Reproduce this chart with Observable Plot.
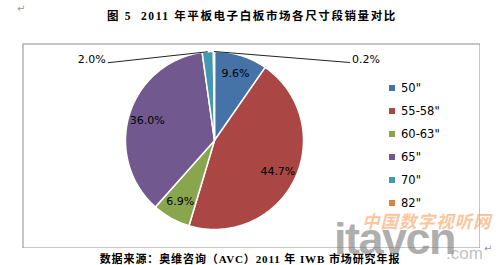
<!DOCTYPE html>
<html><head><meta charset="utf-8">
<script src="https://cdn.jsdelivr.net/npm/d3@7"></script>
<script src="https://cdn.jsdelivr.net/npm/@observablehq/plot@0.6"></script>
<style>
html,body{margin:0;padding:0;background:#fff;width:500px;height:265px;overflow:hidden;position:relative;font-family:"DejaVu Sans",sans-serif;}
.abs{position:absolute;white-space:nowrap;}
#title{left:2px;width:500px;top:9px;text-align:center;font:bold 11.5px/14px "Liberation Serif","Noto Sans CJK SC",serif;letter-spacing:1.6px;color:#000;}
#foot{left:0;width:500px;top:252px;text-align:center;font:bold 11px/14px "Liberation Serif","Noto Sans CJK SC",serif;letter-spacing:0.9px;color:#000;}
#chart{left:22px;top:43px;}
#legend{left:389px;top:0;}
.lg{position:absolute;left:0;font-size:11.5px;line-height:14px;color:#000;}
.sw{display:inline-block;width:6px;height:6px;margin-right:6px;vertical-align:1px;}
.pm{color:#999;font-size:10px;}
</style></head><body>
<div id="title" class="abs">图 5&nbsp; 2011 年平板电子白板市场各尺寸段销量对比</div>
<div class="abs pm" style="left:17px;top:3px;">↵</div>
<div id="chart" class="abs"></div>
<div id="legend" class="abs"></div>
<div id="foot" class="abs">数据来源：奥维咨询（AVC）2011 年 IWB 市场研究年报</div>
<div class="abs pm" style="left:484px;top:243px;">↵</div>
<div class="abs" style="left:362px;top:208px;font:italic bold 17.5px 'Noto Sans CJK SC',sans-serif;letter-spacing:1px;color:rgba(247,140,60,0.5);">中国数字视听网</div>
<div class="abs" style="left:334px;top:218px;font:bold 45px/42px 'Liberation Sans',sans-serif;letter-spacing:-1.5px;color:rgba(120,120,120,0.6);">itavcn</div>
<div class="abs" style="left:446px;top:245px;font:17px/17px 'Liberation Sans',sans-serif;color:rgba(150,150,150,0.6);">.com</div>
<script>
const categories = ['50"', '55-58"', '60-63"', '65"', '70"', '82"'];
const shares = [9.6, 44.7, 6.9, 36.0, 2.0, 0.2];
const colors = ["#4572A7", "#AA4643", "#89A54E", "#71588F", "#4198AF", "#DB843D"];

// layout (pixels inside the chart frame)
const W = 458, H = 205, cx = 192, cy = 97, R = 89;
const labelR = 0.79;
const outside = {4: {dx: -100, dy: 11, anchor: "end"}, 5: {dx: 136, dy: 11, anchor: "start"}};

const arcs = d3.pie().sort(null).startAngle(0).endAngle(2 * Math.PI)(shares);
const pt = (a, r) => ({x: Math.sin(a) * r, y: -Math.cos(a) * r});

const slicePts = [];
arcs.forEach((d, i) => {
  const cat = categories[i];
  slicePts.push({cat, x: 0, y: 0});
  const n = Math.max(2, Math.ceil((d.endAngle - d.startAngle) / (Math.PI / 180)));
  for (let k = 0; k <= n; k++) {
    const a = d.startAngle + (d.endAngle - d.startAngle) * k / n;
    slicePts.push({cat, ...pt(a, 1)});
  }
  slicePts.push({cat, x: 0, y: 0});
});

const inLabels = [], outLabels = [], leaders = [];
arcs.forEach((d, i) => {
  const mid = (d.startAngle + d.endAngle) / 2;
  const text = shares[i].toFixed(1) + "%";
  if (outside[i]) {
    const o = outside[i];
    const e = pt(mid, 1);
    const end = {x: e.x + o.dx / R, y: e.y + o.dy / R};
    leaders.push({x1: e.x, y1: e.y, x2: end.x, y2: end.y});
    outLabels.push({...end, text, anchor: o.anchor});
  } else {
    inLabels.push({...pt(mid, labelR), text});
  }
});

const plot = Plot.plot({
  width: W, height: H, margin: 0,
  x: {domain: [-cx / R, (W - cx) / R], range: [0, W], axis: null},
  y: {domain: [-cy / R, (H - cy) / R], range: [0, H], axis: null},
  color: {domain: categories, range: colors},
  style: {fontFamily: "DejaVu Sans, sans-serif", background: "transparent"},
  marks: [
    Plot.frame({inset: 0.5, stroke: "#8c8c8c"}),
    Plot.line(slicePts, {x: "x", y: "y", z: "cat", fill: "cat", stroke: "white", strokeWidth: 1.5, strokeLinejoin: "round"}),
    Plot.link(leaders, {x1: "x1", y1: "y1", x2: "x2", y2: "y2", stroke: "#222", strokeWidth: 1}),
    Plot.text(inLabels, {x: "x", y: "y", text: "text", fontSize: 11, fill: "#000"}),
    Plot.text(outLabels.filter(d => d.anchor === "end"), {x: "x", y: "y", text: "text", fontSize: 11, fill: "#000", textAnchor: "end", dx: -2, dy: -3}),
    Plot.text(outLabels.filter(d => d.anchor === "start"), {x: "x", y: "y", text: "text", fontSize: 11, fill: "#000", textAnchor: "start", dx: 2, dy: -3})
  ]
});
document.getElementById("chart").appendChild(plot);

const lg = document.getElementById("legend");
categories.forEach((c, i) => {
  const row = document.createElement("div");
  row.className = "lg";
  row.style.top = (81 + i * 23) + "px";
  row.innerHTML = `<span class="sw" style="background:${colors[i]}"></span>`;
  row.appendChild(document.createTextNode(c));
  lg.appendChild(row);
});
</script>
</body></html>
